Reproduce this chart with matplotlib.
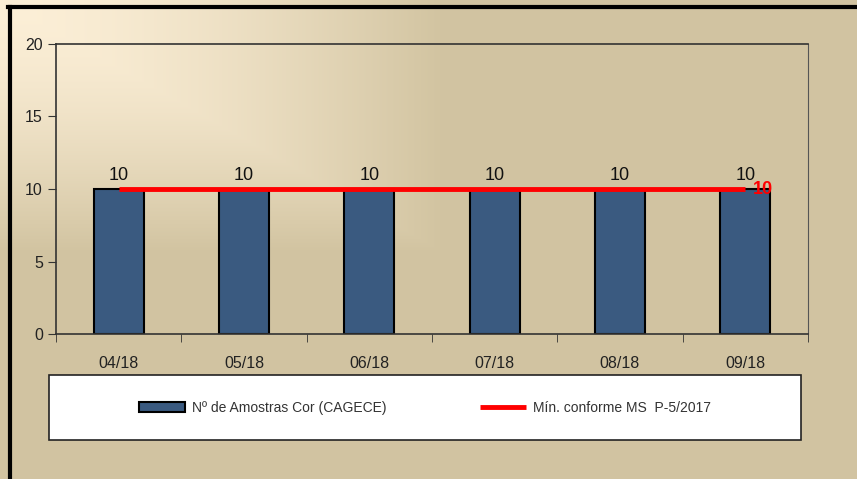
import numpy as np
import matplotlib.pyplot as plt
from matplotlib.patches import Rectangle
from matplotlib.lines import Line2D
from matplotlib.colors import to_rgb

plt.rcParams['font.family'] = ['Liberation Sans', 'DejaVu Sans']

# donnees
meses = ['04/18', '05/18', '06/18', '07/18', '08/18', '09/18']
amostras = [10, 10, 10, 10, 10, 10]
minimo = [10, 10, 10, 10, 10, 10]

tan = np.array(to_rgb('#D2C4A1'))
creme = np.array(to_rgb('#FCEFD7'))
azul = '#3A5A80'

W, H = 857, 479
fig = plt.figure(figsize=(W/100, H/100), dpi=100)
fig.patch.set_facecolor('#D2C4A1')

# fond degrade (coin haut gauche plus clair)
bg = fig.add_axes([0, 0, 1, 1], zorder=-10)
yy, xx = np.mgrid[0:H, 0:W]
t = np.maximum(xx/440.0, yy/250.0)
t = np.clip(t, 0, 1)**1.6
img = creme[None, None, :]*(1-t[..., None]) + tan[None, None, :]*t[..., None]
bg.imshow(img, aspect='auto', extent=[0, 1, 0, 1], origin='upper')
bg.set_axis_off()

ax = fig.add_axes([56/W, 1-334/H, (808-56)/W, (334-44)/H])
ax.set_facecolor('none')

x = np.arange(len(meses))
barras = ax.bar(x, amostras, width=0.4, color=azul, edgecolor='black', linewidth=1.5,
                label='Nº de Amostras Cor (CAGECE)', zorder=2)
for xi, v in zip(x, amostras):
    ax.text(xi, v + 0.35, str(v), ha='center', va='bottom', fontsize=13, color='#111')

linha, = ax.plot(x, minimo, color='#FF0000', linewidth=3.5, label='Mín. conforme MS  P-5/2017',
                 zorder=3, solid_capstyle='butt')
ax.text(x[-1] + 0.06, minimo[-1], str(minimo[-1]), color='#FF0000', fontsize=13,
        fontweight='bold', ha='left', va='center', zorder=4)

ax.set_xlim(-0.5, len(meses) - 0.5)
ax.set_ylim(0, 20)
ax.set_yticks([0, 5, 10, 15, 20])
ax.set_xticks(x)
ax.set_xticklabels(meses)
ax.set_xticks(np.arange(-0.5, len(meses)), minor=True)
ax.tick_params(axis='x', which='major', length=0, pad=16, labelsize=11.5, labelcolor='#222')
ax.tick_params(axis='x', which='minor', length=6, direction='out', color='#333')
ax.tick_params(axis='y', length=6, direction='out', labelsize=11.5, labelcolor='#222', color='#333')
for s in ['left', 'bottom', 'top']:
    ax.spines[s].set_color('#333')
    ax.spines[s].set_linewidth(1.2)
ax.spines['right'].set_color('#555')

# boite de legende
fig.patches.append(Rectangle((49/W, 1-440/H), (801-49)/W, 65/H, transform=fig.transFigure,
                             facecolor='white', edgecolor='#222', linewidth=1.2, zorder=1))
leg = fig.legend([barras, linha], [barras.get_label(), linha.get_label()], loc='center',
                 bbox_to_anchor=(425/W, 1-408/H), ncol=2, frameon=False, fontsize=10,
                 handlelength=3.3, handletextpad=0.5, columnspacing=6.8)
leg.set_zorder(2)
for txt in leg.get_texts():
    txt.set_color('#333')

# bord noir gauche et haut
fig.lines.append(Line2D([10/W, 10/W], [0, 1-7/H], transform=fig.transFigure, color='black', linewidth=3))
fig.lines.append(Line2D([8/W, 1], [1-7/H, 1-7/H], transform=fig.transFigure, color='black', linewidth=3))

fig.savefig('out.png', dpi=100)
